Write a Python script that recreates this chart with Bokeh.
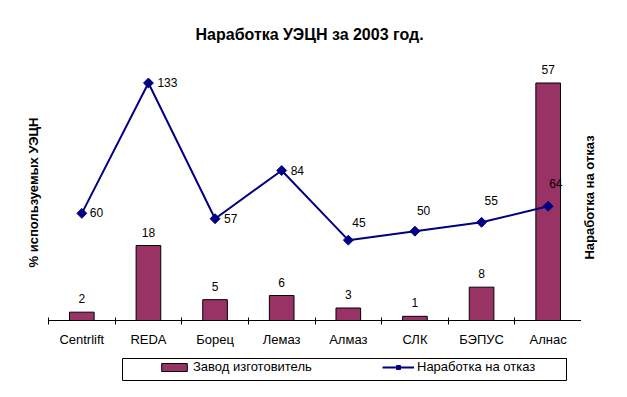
import numpy as np
from bokeh.plotting import figure
from bokeh.layouts import column, row
from bokeh.core.properties import value
from bokeh.models import (Range1d, LinearAxis, FixedTicker, ColumnDataSource, Legend,
                          LegendItem, LabelSet, Spacer, Title)
from bokeh.embed import file_html
from bokeh.resources import INLINE

# ---- data ----
categories = ["Centrlift", "REDA", "Борец", "Лемаз", "Алмаз", "СЛК", "БЭПУС", "Алнас"]
share_pct = [2, 18, 5, 6, 3, 1, 8, 57]          # Завод изготовитель (% используемых УЭЦН)
mtbf = [60, 133, 57, 84, 45, 50, 55, 64]         # Наработка на отказ
title_text = "Наработка УЭЦН за 2003 год."
left_label = "% используемых УЭЦН"
right_label = "Наработка на отказ"
bar_name = "Завод изготовитель"
line_name = "Наработка на отказ"

# ---- styles ----
FONT = "Liberation Sans"
BAR_COLOR = "#993366"
LINE_COLOR = "#000080"
# per-point label offsets for the line labels (screen px, y up)
line_lbl_dx = [8, 9, 9, 9, 4, 2, 3, 1]
line_lbl_dy = [-4, -4, -4, -4, 13, 16, 17, 18]

n = len(categories)
xc = [i + 0.5 for i in range(n)]

# main plot: frame spans x 48..581, y 64..320
p = figure(width=581, height=357, output_backend="svg", toolbar_location=None,
           x_range=Range1d(0, n), y_range=Range1d(0, 61.44),
           min_border_left=48, min_border_right=0, min_border_top=64, min_border_bottom=37,
           x_axis_type=None, y_axis_type=None)
p.title_location = None
p.outline_line_color = None
p.background_fill_color = "white"
p.border_fill_color = "white"
p.extra_y_ranges = {"mtbf": Range1d(0, 143.36)}

# spacer between frame and title, then the title itself (stacked outward)
p.add_layout(Title(text=" ", text_font_size="1px", standoff=18), "above")
p.add_layout(Title(text=title_text, align="left", offset=147, standoff=2,
                   text_font=FONT, text_font_style="bold", text_font_size="16px",
                   text_color="black"), "above")

# x axis: labels at centers, tick marks at boundaries (minor ticks)
xaxis = LinearAxis(ticker=FixedTicker(ticks=xc, minor_ticks=list(range(n + 1))),
                   major_label_overrides={x: c for x, c in zip(xc, categories)})
xaxis.major_tick_line_color = None
xaxis.major_tick_in = 0
xaxis.major_tick_out = 0
xaxis.minor_tick_line_color = "black"
xaxis.minor_tick_in = 3
xaxis.minor_tick_out = 4
xaxis.axis_line_color = "black"
xaxis.major_label_standoff = 7
xaxis.major_label_text_font = FONT
xaxis.major_label_text_font_size = "13px"
xaxis.major_label_text_color = "black"
p.add_layout(xaxis, "below")

def side_axis(label, **kw):
    ax = LinearAxis(ticker=FixedTicker(ticks=[]), axis_label=label, **kw)
    ax.axis_line_color = None
    ax.major_tick_line_color = None
    ax.minor_tick_line_color = None
    ax.axis_label_text_font = FONT
    ax.axis_label_text_font_style = "bold"
    ax.axis_label_text_font_size = "13px"
    ax.axis_label_text_color = "black"
    return ax

lax = side_axis(left_label)
lax.axis_label_standoff = 8
p.add_layout(lax, "left")

src = ColumnDataSource(dict(x=xc, share=share_pct, mtbf=mtbf,
                            share_txt=[str(v) for v in share_pct],
                            mtbf_txt=[str(v) for v in mtbf],
                            dx=line_lbl_dx, dy=line_lbl_dy))

bars = p.vbar(x="x", top="share", width=0.37, source=src,
              fill_color=BAR_COLOR, line_color="black", line_width=1)
line_r = p.line(x="x", y="mtbf", source=src, y_range_name="mtbf",
                line_color=LINE_COLOR, line_width=2)
scat_r = p.scatter(x="x", y="mtbf", source=src, y_range_name="mtbf",
                   marker="square", angle=np.pi / 4, size=7,
                   fill_color=LINE_COLOR, line_color=LINE_COLOR)

bar_labels = LabelSet(x="x", y="share", text="share_txt", source=src,
                      text_align="center", text_baseline="alphabetic", y_offset=9,
                      text_font=value(FONT), text_font_size=value("12px"),
                      text_color="black")
p.add_layout(bar_labels)
line_labels = LabelSet(x="x", y="mtbf", text="mtbf_txt", source=src, y_range_name="mtbf",
                       text_align="left", text_baseline="alphabetic",
                       x_offset="dx", y_offset="dy",
                       text_font=value(FONT), text_font_size=value("12px"),
                       text_color="black")
p.add_layout(line_labels)

# ---- right-hand axis title (own thin panel so it reads bottom-to-top) ----
pr = figure(width=30, height=381, output_backend="svg", toolbar_location=None,
            x_range=Range1d(0, 1), y_range=Range1d(0, 1),
            min_border_left=16, min_border_right=13, min_border_top=77, min_border_bottom=64,
            x_axis_type=None, y_axis_type=None)
pr.title_location = None
pr.outline_line_color = None
pr.background_fill_color = "white"
pr.border_fill_color = "white"
rax = side_axis(right_label)
rax.axis_label_standoff = 2
pr.add_layout(rax, "left")

# ---- legend panel (its frame outline is the legend box) ----
lg = figure(width=446, height=24, output_backend="svg", toolbar_location=None,
            x_range=Range1d(0, 1), y_range=Range1d(-2, -1),
            min_border_left=1, min_border_right=1, min_border_top=1, min_border_bottom=1,
            x_axis_type=None, y_axis_type=None)
lg.title_location = None
lg.outline_line_color = "black"
lg.outline_line_width = 1
lg.background_fill_color = "white"
lg.border_fill_color = "white"
lg_src = ColumnDataSource(dict(x=xc, share=share_pct, mtbf=mtbf))
lg_bar = lg.vbar(x="x", top="share", width=0.37, source=lg_src,
                 fill_color=BAR_COLOR, line_color="black", line_width=1)
lg_line = lg.line(x="x", y="mtbf", source=lg_src, line_color=LINE_COLOR, line_width=2)
lg_scat = lg.scatter(x="x", y="mtbf", source=lg_src, marker="square", angle=np.pi / 4,
                     size=7, fill_color=LINE_COLOR, line_color=LINE_COLOR)

legend = Legend(items=[LegendItem(label=bar_name, renderers=[lg_bar]),
                       LegendItem(label=line_name, renderers=[lg_line, lg_scat])],
                orientation="horizontal", location=(36, 6), padding=0, margin=0,
                spacing=69, glyph_width=32, glyph_height=10, label_height=10,
                label_width=120, label_standoff=3,
                border_line_color=None, background_fill_alpha=0,
                label_text_font=FONT, label_text_font_size="13px",
                label_text_color="black")
lg.add_layout(legend, "center")

layout = row(column(p, row(Spacer(width=121, height=24), lg)), pr)

open("out.html", "w").write(file_html(layout, INLINE))
